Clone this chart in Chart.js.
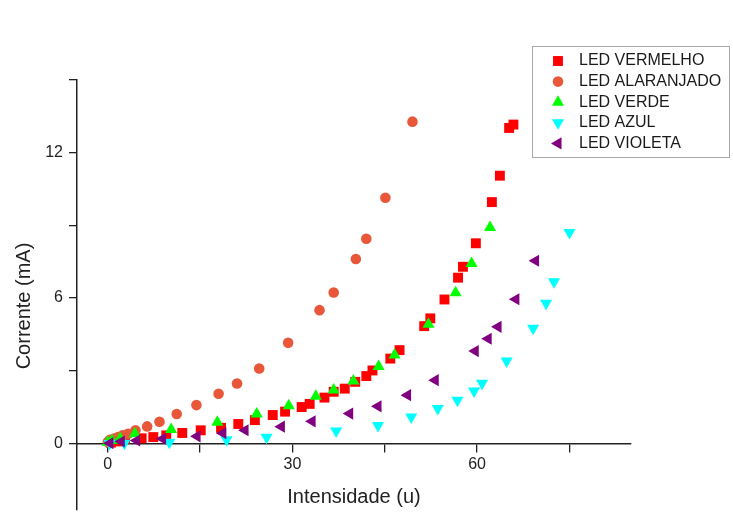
<!DOCTYPE html>
<html>
<head>
<meta charset="utf-8">
<script src="https://cdn.jsdelivr.net/npm/chart.js@4/dist/chart.umd.min.js"></script>
<style>
    body { margin: 0; background: #fff; }
    #wrap { width: 733px; height: 530px; }
</style>
</head>
<body>
<div id="wrap"><canvas id="led-chart"></canvas></div>
<script>
// eixos
const X_TICKS = [0, 15, 30, 45, 60, 75];
const X_LABELS = [0, 30, 60];
const Y_TICKS = [0, 3, 6, 9, 12, 15];
const Y_LABELS = [0, 6, 12];

// series
const seriesNames = ['LED VERMELHO', 'LED ALARANJADO', 'LED VERDE', 'LED AZUL', 'LED VIOLETA'];

const vermelhoX = [0.5, 1.5, 2.8, 5.5, 7.4, 9.5, 12.1, 15.1, 18.4, 21.2, 23.9, 26.8, 28.8, 31.5, 32.8, 35.2, 36.7, 38.5, 40.2, 42.0, 43.0, 45.9, 47.4, 51.4, 52.4, 54.7, 56.9, 57.7, 59.8, 62.4, 63.7, 65.2, 65.9];
const vermelhoY = [0.03, 0.08, 0.19, 0.21, 0.26, 0.33, 0.43, 0.54, 0.64, 0.80, 0.96, 1.17, 1.31, 1.50, 1.63, 1.89, 2.13, 2.26, 2.54, 2.78, 3.01, 3.50, 3.85, 4.84, 5.16, 5.94, 6.84, 7.29, 8.26, 9.96, 11.05, 13.02, 13.16];

const laranjaX = [0, 0.35, 1.0, 1.7, 2.4, 3.3, 4.5, 6.4, 8.4, 11.2, 14.4, 18.0, 21.0, 24.6, 29.3, 34.4, 36.7, 40.3, 42.0, 45.1, 49.5];
const laranjaY = [0.06, 0.15, 0.20, 0.26, 0.33, 0.40, 0.54, 0.70, 0.89, 1.21, 1.58, 2.05, 2.47, 3.09, 4.15, 5.50, 6.23, 7.61, 8.45, 10.14, 13.28];

const verdeX = [0, 0.7, 2.0, 4.4, 10.3, 17.8, 24.2, 29.4, 33.8, 36.7, 39.9, 44.0, 46.6, 52.1, 56.5, 59.1, 62.1];
const verdeY = [0.05, 0.12, 0.20, 0.40, 0.57, 0.87, 1.21, 1.55, 1.95, 2.20, 2.57, 3.17, 3.65, 4.92, 6.22, 7.43, 8.91];

const azulX = [0.3, 2.7, 10.0, 19.3, 25.8, 37.1, 43.9, 49.3, 53.6, 56.8, 59.5, 60.8, 64.8, 69.1, 71.2, 72.5, 75.0];
const azulY = [0.0, 0.01, 0.05, 0.15, 0.25, 0.51, 0.74, 1.09, 1.44, 1.78, 2.16, 2.48, 3.40, 4.75, 5.78, 6.67, 8.70];

const violetaX = [0.35, 2.2, 4.7, 8.9, 14.5, 18.7, 22.3, 28.2, 33.2, 39.3, 43.9, 48.7, 53.2, 59.7, 61.8, 63.4, 66.3, 69.5];
const violetaY = [0.01, 0.08, 0.12, 0.19, 0.29, 0.42, 0.54, 0.69, 0.91, 1.23, 1.53, 1.99, 2.61, 3.81, 4.32, 4.81, 5.95, 7.54];

const FONT = "'Liberation Sans', Arial, sans-serif";
Chart.defaults.font.family = FONT;
Chart.defaults.color = '#222';

function pairs(xs, ys) {
    return xs.map((x, i) => ({ x: x, y: ys[i] }));
}

const styles = [
    { color: '#FF0000', pointStyle: 'rect', radius: 7, rotation: 0 },
    { color: '#E9573A', pointStyle: 'circle', radius: 5.3, rotation: 0 },
    { color: '#00FF00', pointStyle: 'triangle', radius: 7, rotation: 0 },
    { color: '#00FFFF', pointStyle: 'triangle', radius: 7, rotation: 180 },
    { color: '#800080', pointStyle: 'triangle', radius: 7, rotation: 270 }
];
const allX = [vermelhoX, laranjaX, verdeX, azulX, violetaX];
const allY = [vermelhoY, laranjaY, verdeY, azulY, violetaY];

const datasets = seriesNames.map((name, i) => ({
    label: name,
    data: pairs(allX[i], allY[i]),
    showLine: false,
    pointStyle: styles[i].pointStyle,
    pointRotation: styles[i].rotation,
    pointRadius: styles[i].radius,
    pointBorderWidth: 0,
    backgroundColor: styles[i].color,
    borderColor: styles[i].color,
    order: seriesNames.length - i
}));

// legenda desenhada com caixa cinza, como no original
const boxLegend = {
    id: 'boxLegend',
    afterLayout(chart) {
        // titulo do eixo y fica um pouco abaixo do centro no original
        const s = chart.scales.y;
        if (!s._shifted) {
            const orig = s.drawTitle;
            s.drawTitle = function () {
                this.ctx.save();
                this.ctx.translate(0, 11);
                orig.call(this);
                this.ctx.restore();
            };
            s._shifted = true;
        }
    },
    afterDraw(chart) {
        const ctx = chart.ctx;
        ctx.save();
        ctx.strokeStyle = '#A8A8A8';
        ctx.lineWidth = 1;
        ctx.strokeRect(532.5, 46.5, 197, 111);
        ctx.font = '16px ' + FONT;
        ctx.textBaseline = 'middle';
        ctx.textAlign = 'left';
        seriesNames.forEach((name, i) => {
            const y = 61 + i * 20.6;
            ctx.fillStyle = styles[i].color;
            Chart.helpers.drawPoint(ctx, {
                pointStyle: styles[i].pointStyle,
                radius: styles[i].radius,
                rotation: styles[i].rotation,
                borderWidth: 0
            }, 558, y);
            ctx.fillStyle = '#1a1a1a';
            ctx.fillText(name, 579, y);
        });
        ctx.restore();
    }
};

new Chart(document.getElementById('led-chart'), {
    type: 'scatter',
    data: { datasets: datasets },
    plugins: [boxLegend],
    options: {
        responsive: true,
        maintainAspectRatio: false,
        animation: false,
        events: [],
        layout: { padding: { top: 80, right: 102, left: 0, bottom: 20 } },
        plugins: {
            legend: { display: false },
            tooltip: { enabled: false }
        },
        scales: {
            x: {
                type: 'linear',
                position: { y: 0 },
                min: -5,
                max: 85,
                afterBuildTicks: s => { s.ticks = X_TICKS.map(v => ({ value: v })); },
                afterFit: s => { s.height = 70; },
                ticks: {
                    padding: 4,
                    font: { size: 16 },
                    color: '#222',
                    autoSkip: false,
                    maxRotation: 0,
                    callback: v => X_LABELS.includes(v) ? String(v) : ''
                },
                grid: { drawOnChartArea: false, drawTicks: true, tickLength: 8, color: '#222', lineWidth: 1.3 },
                border: { display: true, color: '#222', width: 1.5 },
                title: {
                    display: true,
                    text: 'Intensidade (u)',
                    font: { size: 20 },
                    color: '#222',
                    padding: { top: 4, bottom: 4 }
                }
            },
            y: {
                type: 'linear',
                position: 'left',
                min: -2.75,
                max: 15,
                afterBuildTicks: s => { s.ticks = Y_TICKS.map(v => ({ value: v })); },
                afterFit: s => { s.width = 77; },
                ticks: {
                    padding: 6,
                    font: { size: 16 },
                    color: '#222',
                    autoSkip: false,
                    callback: v => Y_LABELS.includes(v) ? String(v) : ''
                },
                grid: { drawOnChartArea: false, drawTicks: true, tickLength: 8, color: '#222', lineWidth: 1.3 },
                border: { display: true, color: '#222', width: 1.5 },
                title: {
                    display: true,
                    text: 'Corrente (mA)',
                    font: { size: 20 },
                    color: '#222',
                    padding: { top: 12, bottom: 4 }
                }
            }
        }
    }
});
</script>
</body>
</html>
